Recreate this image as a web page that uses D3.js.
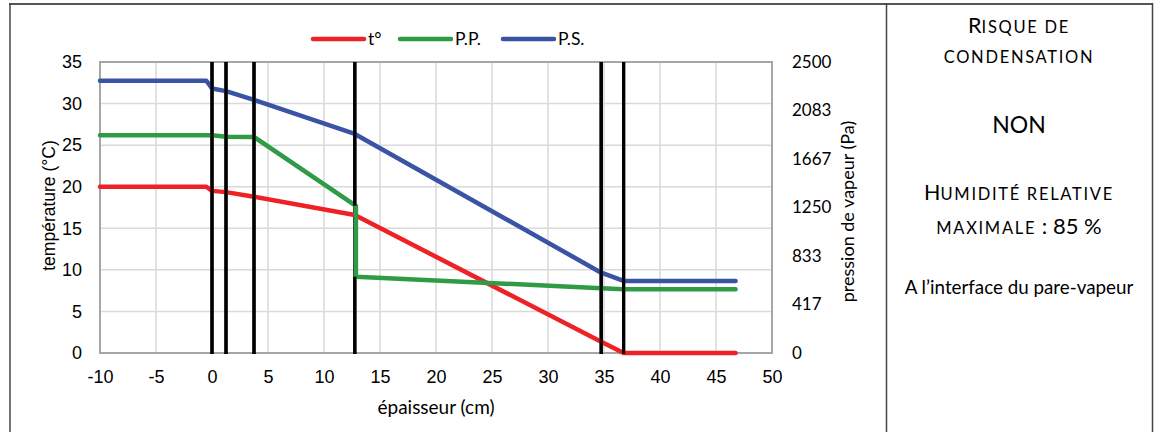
<!DOCTYPE html>
<html>
<head>
<meta charset="utf-8">
<script src="https://cdn.jsdelivr.net/npm/d3@7/dist/d3.min.js"></script>
<style>
  body { margin: 0; background: #fff; }
  .tick-arial { font-family: "Liberation Sans", Arial, sans-serif; font-size: 18px; fill: #000; }
  .calib { font-family: Lato, "Noto Sans", sans-serif; fill: #000; }
</style>
</head>
<body>
<script>
// couches : limites des matériaux (cm)
const limites = [0, 1.25, 3.75, 12.75, 34.75, 36.75];

// température (°C)
const xTemp = [-10, -0.5, 0, 1.25, 3.75, 12.75, 34.75, 36.75, 46.75];
const temperature = [20, 20, 19.5, 19.35, 18.8, 16.6, 1.35, 0, 0];

// pression partielle (Pa)
const xPP = [-10, -0.5, 0, 1.25, 3.75, 12.85, 12.85, 34.75, 36.75, 46.75];
const pressionPart = [1870, 1870, 1870, 1857, 1856, 1264, 656, 556, 547, 547];

// pression de saturation (Pa)
const xPS = [-10, -0.5, 0, 1.25, 3.75, 12.75, 34.75, 36.75, 46.75];
const pressionSat = [2339, 2339, 2273, 2250, 2174, 1882, 690, 619, 619];

const xTicks = [-10, -5, 0, 5, 10, 15, 20, 25, 30, 35, 40, 45, 50];
const yTicks = [0, 5, 10, 15, 20, 25, 30, 35];
const y2Ticks = [0, 417, 833, 1250, 1667, 2083, 2500];

const legende = ["t°", "P.P.", "P.S."];
const couleurs = ["#ee2126", "#2f9b45", "#3a53a4"];

const W = 1159, H = 432;
const plot = { left: 100, right: 772, top: 62, bottom: 353 };

let svg = d3.select("body").append("svg")
    .attr("width", W)
    .attr("height", H);

let x = d3.scaleLinear().domain([-10, 50]).range([plot.left, plot.right]);
let y = d3.scaleLinear().domain([0, 35]).range([plot.bottom, plot.top]);
let y2 = d3.scaleLinear().domain([0, 2500]).range([plot.bottom, plot.top]);

// cadre extérieur
svg.append("line").attr("x1", 9).attr("x2", 1153).attr("y1", 4).attr("y2", 4)
    .attr("stroke", "#555").attr("stroke-width", 2);
[10, 886.5, 1152.5].forEach(function(px) {
    svg.append("line").attr("x1", px).attr("x2", px).attr("y1", 3).attr("y2", H)
        .attr("stroke", "#444").attr("stroke-width", 1.5);
});

// grille
let grid = svg.append("g");
grid.selectAll("line.v")
    .data(xTicks.slice(1, -1))
    .enter().append("line")
    .attr("x1", d => x(d)).attr("x2", d => x(d))
    .attr("y1", plot.top).attr("y2", plot.bottom)
    .attr("stroke", "#d9d9d9").attr("stroke-width", 1.5);
grid.selectAll("line.h")
    .data(yTicks.slice(1, -1))
    .enter().append("line")
    .attr("x1", plot.left).attr("x2", plot.right)
    .attr("y1", d => y(d)).attr("y2", d => y(d))
    .attr("stroke", "#d9d9d9").attr("stroke-width", 1.5);

svg.append("rect")
    .attr("x", plot.left).attr("y", plot.top)
    .attr("width", plot.right - plot.left).attr("height", plot.bottom - plot.top)
    .attr("fill", "none").attr("stroke", "#a6a6a6").attr("stroke-width", 2);

// axes
let fmt = d => String(d);
let xAxis = svg.append("g")
    .attr("transform", "translate(0," + plot.bottom + ")")
    .call(d3.axisBottom(x).tickValues(xTicks).tickFormat(fmt).tickSize(0).tickPadding(17));
let yAxis = svg.append("g")
    .attr("transform", "translate(" + plot.left + ",0)")
    .call(d3.axisLeft(y).tickValues(yTicks).tickFormat(fmt).tickSize(0).tickPadding(18));
let y2Axis = svg.append("g")
    .attr("transform", "translate(" + plot.right + ",0)")
    .call(d3.axisRight(y2).tickValues(y2Ticks).tickFormat(fmt).tickSize(0).tickPadding(20));

[xAxis, yAxis, y2Axis].forEach(a => a.select(".domain").remove());
xAxis.selectAll("text").attr("class", "tick-arial").attr("dy", "0.71em");
yAxis.selectAll("text").attr("class", "tick-arial");
y2Axis.selectAll("text").attr("class", "calib").style("font-size", "17px");

// titres des axes
svg.append("text").attr("class", "tick-arial")
    .attr("transform", "translate(49," + ((plot.top + plot.bottom) / 2 - 2) + ") rotate(-90)")
    .attr("text-anchor", "middle").attr("dy", "0.35em")
    .style("font-size", "17.5px")
    .text("température (°C)");
svg.append("text").attr("class", "calib")
    .attr("transform", "translate(848," + ((plot.top + plot.bottom) / 2 + 4) + ") rotate(-90)")
    .attr("text-anchor", "middle").attr("dy", "0.35em")
    .style("font-size", "18px")
    .text("pression de vapeur (Pa)");
svg.append("text").attr("class", "calib")
    .attr("x", (plot.left + plot.right) / 2).attr("y", 414)
    .attr("text-anchor", "middle")
    .style("font-size", "19px")
    .text("épaisseur (cm)");

// limites des couches
svg.selectAll("line.couche")
    .data(limites)
    .enter().append("line")
    .attr("x1", d => x(d)).attr("x2", d => x(d))
    .attr("y1", plot.top).attr("y2", plot.bottom + 1)
    .attr("stroke", "#000").attr("stroke-width", 3.2);

// courbes
let series = [
    { xs: xTemp, ys: temperature, scale: y },
    { xs: xPP, ys: pressionPart, scale: y2 },
    { xs: xPS, ys: pressionSat, scale: y2 }
];

series.forEach(function(s, k) {
    let pts = s.xs.map((v, i) => [v, s.ys[i]]);
    let line = d3.line().x(d => x(d[0])).y(d => s.scale(d[1]));
    svg.append("path")
        .datum(pts)
        .attr("d", line)
        .attr("fill", "none")
        .attr("stroke", couleurs[k])
        .attr("stroke-width", 4.5)
        .attr("stroke-linejoin", "round")
        .attr("stroke-linecap", "round");
});

// les traits noirs repassent par-dessus, sauf là où la P.P. descend
svg.selectAll("line.couche2")
    .data(limites)
    .enter().append("line")
    .attr("x1", d => x(d)).attr("x2", d => x(d))
    .attr("y1", plot.top).attr("y2", plot.bottom + 1)
    .attr("stroke", "#000").attr("stroke-width", 3.2)
    .attr("stroke-dasharray", d => d === 12.75
        ? [y2(pressionPart[5]) - plot.top, y2(pressionPart[6]) - y2(pressionPart[5]), 999].join(",")
        : null);

// légende
let legX = [313, 400, 503];
let leg = svg.selectAll("g.leg")
    .data(legende)
    .enter().append("g")
    .attr("transform", (d, i) => "translate(" + legX[i] + ",39)");
leg.append("line")
    .attr("x1", 0).attr("x2", 51)
    .attr("stroke", (d, i) => couleurs[i])
    .attr("stroke-width", 4.5).attr("stroke-linecap", "round");
leg.append("text").attr("class", "calib")
    .attr("x", 55).attr("dy", "0.35em")
    .style("font-size", "17.5px")
    .text(d => d);

// panneau de droite (petites capitales faites à la main)
let cx = 1019;
const CAP = 21.5, PC = 16.5, ESP = 1.7;
let panneau = [
    { y: 33, seg: [["R", CAP, 0], ["ISQUE DE", PC, ESP]] },
    { y: 63, seg: [["CONDENSATION", PC, ESP]] },
    { y: 133, seg: [["NON", 23, 0]] },
    { y: 200, seg: [["H", CAP, 0], ["UMIDITÉ RELATIVE", PC, ESP]] },
    { y: 234, seg: [["MAXIMALE", PC, ESP], [" : 85 %", 22, 0]] },
    { y: 294, seg: [["A l’interface du pare-vapeur", 18.8, 0]] }
];
let lignes = svg.selectAll("text.pan")
    .data(panneau)
    .enter().append("text")
    .attr("class", "calib")
    .attr("x", cx).attr("y", d => d.y)
    .attr("text-anchor", "middle");
lignes.selectAll("tspan")
    .data(d => d.seg)
    .enter().append("tspan")
    .style("font-size", d => d[1] + "px")
    .style("letter-spacing", d => d[2] + "px")
    .text(d => d[0]);
</script>
</body>
</html>
